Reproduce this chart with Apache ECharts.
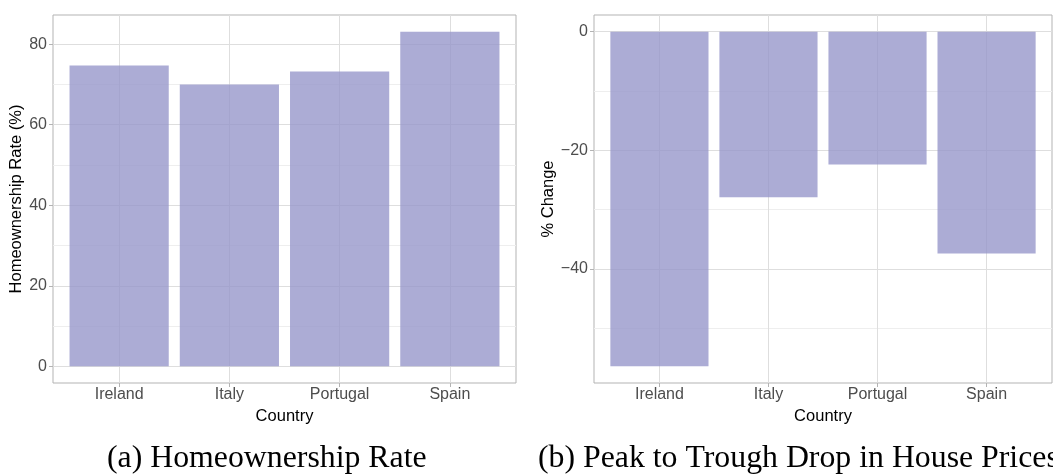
<!DOCTYPE html>
<html>
<head>
<meta charset="utf-8">
<title>Homeownership and house prices</title>
<script src="https://cdn.jsdelivr.net/npm/echarts@6/dist/echarts.min.js"></script>
<style>
  html, body { margin: 0; padding: 0; background: #ffffff; }
  #chart { width: 1053px; height: 475px; }
</style>
</head>
<body>
<div id="chart"></div>
<script>
// ---- data ----
const countries = ['Ireland', 'Italy', 'Portugal', 'Spain'];
const homeownershipRate = [74.7, 70.0, 73.2, 83.1];   // %
const priceDrop = [-56.4, -27.9, -22.4, -37.4];       // % change, peak to trough

// ---- tick labels ----
const rateTicks = [0, 20, 40, 60, 80];
const rateMinorTicks = [10, 30, 50, 70];
const dropTicks = [-40, -20, 0];
const dropMinorTicks = [-50, -30, -10];

// ---- captions / titles ----
const captionA = '(a) Homeownership Rate';
const captionB = '(b) Peak to Trough Drop in House Prices';
const xTitle = 'Country';
const yTitleA = 'Homeownership Rate (%)';
const yTitleB = '% Change';

// ---- styling ----
const SANS = '"Liberation Sans", Arial, Helvetica, sans-serif';
const SERIF = '"Liberation Serif", "Times New Roman", serif';
const BAR = 'rgba(150, 150, 202, 0.79)';
const GRID_MAJOR = '#DEDEDE';
const GRID_MINOR = '#EEEEEE';
const BORDER = '#B3B3B3';
const TICK_TEXT = '#4D4D4D';

// continuous range with 5% padding on each side (zero included for bars)
function padRange(values) {
  const lo = Math.min(0, ...values), hi = Math.max(0, ...values);
  const pad = (hi - lo) * 0.05;
  return [lo - pad, hi + pad];
}
const catPositions = countries.map((c, i) => i + 1);
const xRange = [1 - 0.6, countries.length + 0.6];
const rangeA = padRange(homeownershipRate);
const rangeB = padRange(priceDrop);

const fmtNum = v => (v < 0 ? '\u2212' + Math.abs(v) : String(v));

const grids = [
  { left: 53, top: 15, width: 463, height: 368 },
  { left: 594, top: 15, width: 458, height: 368 }
];

function xAxisFor(gridIndex) {
  return {
    type: 'value', gridIndex, min: xRange[0], max: xRange[1],
    name: xTitle, nameLocation: 'middle', nameGap: 19,
    nameTextStyle: { color: '#000', fontSize: 16.5, fontFamily: SANS },
    axisLine: { show: false, onZero: false },
    axisTick: { show: true, length: 4, customValues: catPositions,
      lineStyle: { color: BORDER, width: 1 } },
    axisLabel: { show: true, margin: 4, customValues: catPositions,
      color: TICK_TEXT, fontSize: 16, fontFamily: SANS,
      formatter: v => countries[Math.round(v) - 1] },
    splitLine: { show: true, lineStyle: { color: GRID_MAJOR, width: 1 } }
  };
}

function yMajor(gridIndex, range, ticks, title, gap) {
  return {
    type: 'value', gridIndex, min: range[0], max: range[1],
    name: title, nameLocation: 'middle', nameGap: gap,
    nameTextStyle: { color: '#000', fontSize: 16.5, fontFamily: SANS },
    axisLine: { show: false, onZero: false },
    axisTick: { show: true, length: 4, customValues: ticks,
      lineStyle: { color: BORDER, width: 1 } },
    axisLabel: { show: true, margin: 6, customValues: ticks,
      color: TICK_TEXT, fontSize: 16, fontFamily: SANS, formatter: fmtNum },
    splitLine: { show: true, lineStyle: { color: GRID_MAJOR, width: 1 } }
  };
}

function yMinor(gridIndex, range, ticks) {
  return {
    type: 'value', gridIndex, min: range[0], max: range[1],
    axisLine: { show: false, onZero: false },
    axisTick: { show: false, customValues: ticks },
    axisLabel: { show: false, customValues: ticks },
    splitLine: { show: true, lineStyle: { color: GRID_MINOR, width: 1 } }
  };
}

const chart = echarts.init(document.getElementById('chart'), null, { renderer: 'canvas' });

chart.setOption({
  animation: false,
  backgroundColor: '#ffffff',
  grid: grids.map(g => Object.assign({
    show: true, borderColor: BORDER, borderWidth: 1,
    backgroundColor: 'transparent', containLabel: false, outerBoundsMode: 'none'
  }, g)),
  xAxis: [xAxisFor(0), xAxisFor(1)],
  yAxis: [
    yMajor(0, rangeA, rateTicks, yTitleA, 25),
    yMinor(0, rangeA, rateMinorTicks),
    yMajor(1, rangeB, dropTicks, yTitleB, 36),
    yMinor(1, rangeB, dropMinorTicks)
  ],
  series: [
    {
      type: 'bar', xAxisIndex: 0, yAxisIndex: 0, barWidth: '90%',
      itemStyle: { color: BAR },
      data: countries.map((c, i) => [catPositions[i], homeownershipRate[i]])
    },
    {
      type: 'bar', xAxisIndex: 1, yAxisIndex: 2, barWidth: '90%',
      itemStyle: { color: BAR },
      data: countries.map((c, i) => [catPositions[i], priceDrop[i]])
    }
  ],
  graphic: [
    { type: 'text', x: 107, y: 459,
      style: { text: captionA, fontSize: 31.8, fontFamily: SERIF, fill: '#000',
        align: 'left', verticalAlign: 'middle' } },
    { type: 'text', x: 538, y: 459,
      style: { text: captionB, fontSize: 31.8, fontFamily: SERIF, fill: '#000',
        align: 'left', verticalAlign: 'middle' } }
  ]
});
</script>
</body>
</html>
